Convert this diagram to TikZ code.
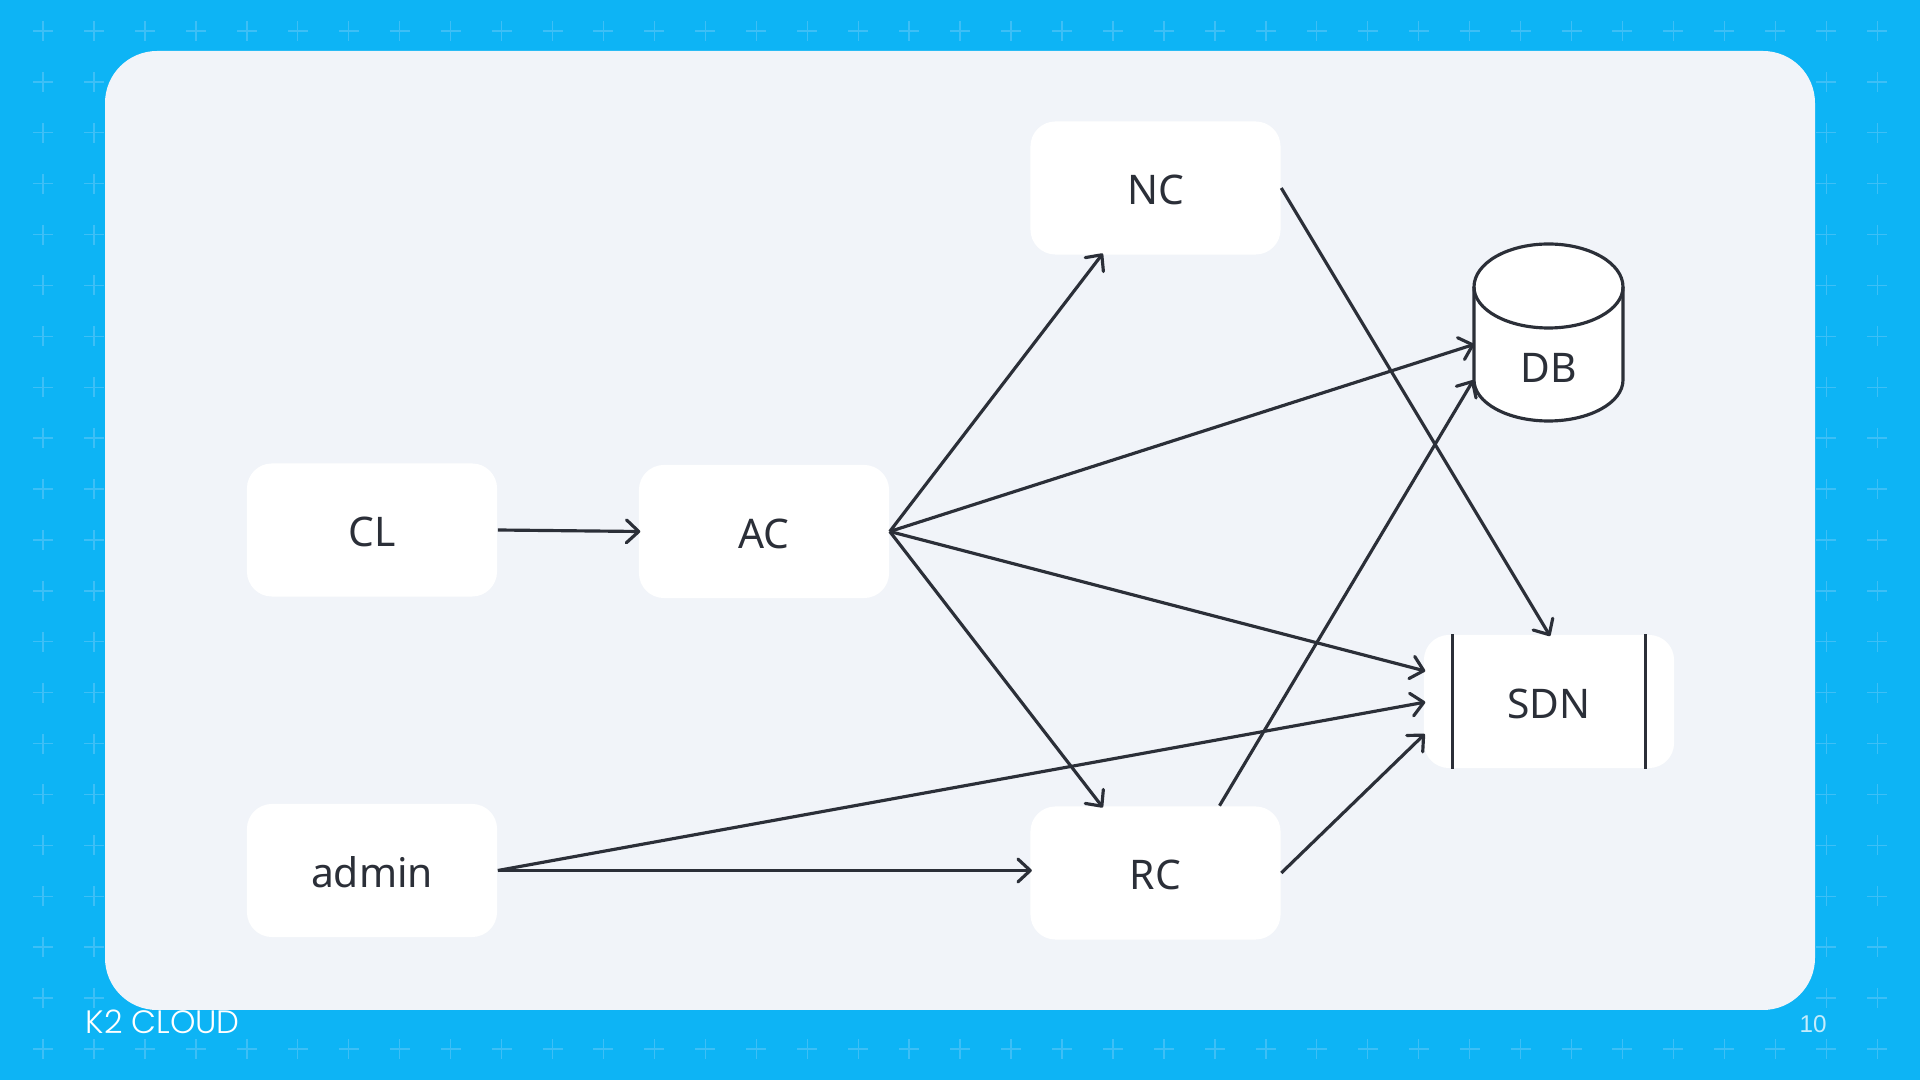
\documentclass[tikz,border=0pt]{standalone}
\usepackage{fontspec}
\setmainfont{Noto Sans}
\newfontfamily\logofont{Poppins Light}
\newfontfamily\pagefont{Liberation Sans}
\usetikzlibrary{arrows.meta,calc}
\definecolor{skyc}{HTML}{0DB4F5}
\definecolor{panelc}{HTML}{F1F4F9}
\definecolor{inkc}{HTML}{2B2F38}
\definecolor{plusc}{HTML}{3DBFF6}
\tikzset{
  box/.style={fill=white, rounded corners=0.25cm, minimum width=2.5cm, minimum height=1.33cm, inner sep=0pt, text=inkc, font=\fontsize{11.6}{14}\selectfont, text height=9.4pt, text depth=0pt},
  dbtext/.style={minimum width=1.49cm, inner sep=0pt, text=inkc, font=\fontsize{11.6}{14}\selectfont},
  dbline/.style={draw=inkc, line width=0.9pt},
  conn/.style={draw=inkc, line width=0.9pt, shorten >=-0.6pt, -{Straight Barb[length=3.5pt,width=6.5pt,round]}},
  bar/.style={draw=inkc, line width=0.9pt},
  plusmark/.style={draw=plusc, line width=0.4pt}
}
\begin{document}
\begin{tikzpicture}[x=0.01cm,y=-0.01cm]
  \useasboundingbox (0,0) rectangle (1920,1080);
  \fill[skyc] (0,0) rectangle (1920,1080);
  % background crosses
  \foreach \i in {0,...,36}
    \foreach \j in {0,...,20}
      \draw[plusmark] ({43+50.95*\i-10},{31+50.9*\j}) -- ++(20,0) ({43+50.95*\i},{31+50.9*\j-10}) -- ++(0,20);
  \fill[panelc, rounded corners=0.52cm] (105,51) rectangle (1815,1010);
  % database drum
  \draw[dbline, fill=white] (1474,287) arc[start angle=180, end angle=360, x radius=74.5, y radius=43]
    -- (1623,380) arc[start angle=0, end angle=180, x radius=74.5, y radius=41] -- cycle;
  \draw[dbline] (1474,287) arc[start angle=180, end angle=0, x radius=74.5, y radius=41];
  % nodes
  \node[box] (cl) at (372,530) {CL};
  \node[box] (ac) at (764,531.5) {AC};
  \node[box] (admin) at (372,870.5) {admin};
  \node[box] (nc) at (1155.5,188) {NC};
  \node[box] (rc) at (1155.5,873) {RC};
  \node[box] (sdn) at (1549,701.5) {SDN};
  \node[dbtext] (db) at (1548.5,368) {DB};
  \draw[bar] ($(sdn.north west)+(29,0)$) -- ($(sdn.south west)+(29,0)$);
  \draw[bar] ($(sdn.north east)+(-29,0)$) -- ($(sdn.south east)+(-29,0)$);
  % connectors
  \draw[conn] (cl.east) -- (ac.west);
  \draw[conn] (ac.east) -- ($(nc.south)+(-54,0)$);
  \draw[conn] (ac.east) -- ($(db.west)+(-1,-23)$);
  \draw[conn] (ac.east) -- ($(sdn.west)+(0,-31)$);
  \draw[conn] (ac.east) -- ($(rc.north)+(-54,0)$);
  \draw[conn] (nc.east) -- (sdn.north);
  \draw[conn] ($(rc.north)+(64,0)$) -- ($(db.west)+(-1,14)$);
  \draw[conn] (rc.east) -- ($(sdn.west)+(0,34)$);
  \draw[conn] (admin.east) -- ($(sdn.west)+(0,1)$);
  \draw[conn] (admin.east) -- (admin.east -| rc.west);
  % footer
  \node[text=white, font=\logofont\fontsize{9.2}{11}\selectfont, inner sep=0pt, anchor=west] (logo) at (85,1022) {K2 CLOUD};
  \node[text=white!75!skyc, font=\pagefont\fontsize{6.9}{8}\selectfont, inner sep=0pt] (page) at (1813,1024) {10};
\end{tikzpicture}
\end{document}
